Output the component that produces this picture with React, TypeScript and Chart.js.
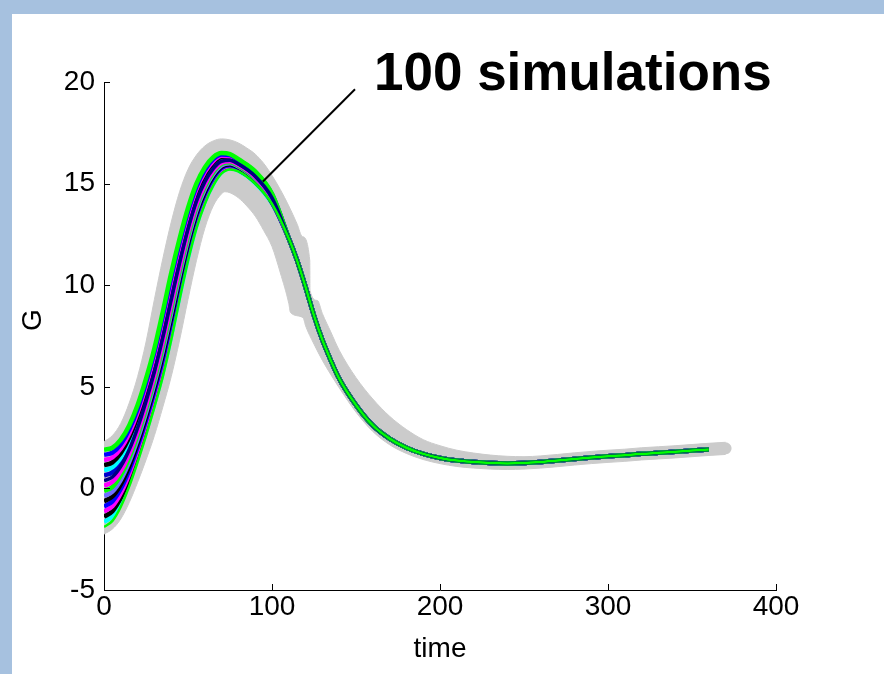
import React, { useEffect, useRef } from 'react';
import { Chart, registerables } from 'chart.js';

Chart.register(...registerables);

// ---------- axis ticks ----------
const xTicks = [0, 100, 200, 300, 400];
const yTicks = [-5, 0, 5, 10, 15, 20];
const xTitle = 'time';
const yTitle = 'G';

// ---------- simulation bundle (16 drawn simulations) ----------
// times of the early (diverging) part of the runs
const headTimes = [0, 5, 10, 15, 20, 25, 30, 35, 40, 45, 50, 55, 60, 65, 70, 75, 80, 90, 100];
// one row per head time: G of each simulation, top run first
const simHeadRows: number[][] = [
  [1.9, 1.65, 1.39, 1.14, 0.89, 0.63, 0.38, 0.13, -0.13, -0.38, -0.63, -0.89, -1.14, -1.39, -1.65, -1.9],
  [2.0, 1.76, 1.52, 1.28, 1.04, 0.8, 0.56, 0.32, 0.08, -0.16, -0.4, -0.64, -0.88, -1.12, -1.36, -1.6],
  [2.4, 2.18, 1.96, 1.74, 1.52, 1.3, 1.08, 0.86, 0.64, 0.42, 0.2, -0.02, -0.24, -0.46, -0.68, -0.9],
  [3.1, 2.9, 2.7, 2.5, 2.3, 2.1, 1.9, 1.7, 1.5, 1.3, 1.1, 0.9, 0.7, 0.5, 0.3, 0.1],
  [4.1, 3.91, 3.73, 3.54, 3.35, 3.17, 2.98, 2.79, 2.61, 2.42, 2.23, 2.05, 1.86, 1.67, 1.49, 1.3],
  [5.4, 5.21, 5.03, 4.84, 4.65, 4.47, 4.28, 4.09, 3.91, 3.72, 3.53, 3.35, 3.16, 2.97, 2.79, 2.6],
  [6.9, 6.71, 6.51, 6.32, 6.13, 5.93, 5.74, 5.55, 5.35, 5.16, 4.97, 4.77, 4.58, 4.39, 4.19, 4.0],
  [8.7, 8.49, 8.27, 8.06, 7.85, 7.63, 7.42, 7.21, 6.99, 6.78, 6.57, 6.35, 6.14, 5.93, 5.71, 5.5],
  [10.6, 10.38, 10.16, 9.94, 9.72, 9.5, 9.28, 9.06, 8.84, 8.62, 8.4, 8.18, 7.96, 7.74, 7.52, 7.3],
  [12.3, 12.1, 11.9, 11.7, 11.5, 11.3, 11.1, 10.9, 10.7, 10.5, 10.3, 10.1, 9.9, 9.7, 9.5, 9.3],
  [13.8, 13.63, 13.45, 13.28, 13.11, 12.93, 12.76, 12.59, 12.41, 12.24, 12.07, 11.89, 11.72, 11.55, 11.37, 11.2],
  [15.0, 14.85, 14.71, 14.56, 14.41, 14.27, 14.12, 13.97, 13.83, 13.68, 13.53, 13.39, 13.24, 13.09, 12.95, 12.8],
  [15.8, 15.68, 15.56, 15.44, 15.32, 15.2, 15.08, 14.96, 14.84, 14.72, 14.6, 14.48, 14.36, 14.24, 14.12, 14.0],
  [16.3, 16.21, 16.11, 16.02, 15.93, 15.83, 15.74, 15.65, 15.55, 15.46, 15.37, 15.27, 15.18, 15.09, 14.99, 14.9],
  [16.5, 16.43, 16.37, 16.3, 16.23, 16.17, 16.1, 16.03, 15.97, 15.9, 15.83, 15.77, 15.7, 15.63, 15.57, 15.5],
  [16.45, 16.4, 16.35, 16.3, 16.25, 16.2, 16.15, 16.1, 16.05, 16.0, 15.95, 15.9, 15.85, 15.8, 15.75, 15.7],
  [16.2, 16.16, 16.12, 16.08, 16.04, 16.0, 15.96, 15.92, 15.88, 15.84, 15.8, 15.76, 15.72, 15.68, 15.64, 15.6],
  [15.6, 15.56, 15.52, 15.48, 15.44, 15.4, 15.36, 15.32, 15.28, 15.24, 15.2, 15.16, 15.12, 15.08, 15.04, 15.0],
  [14.5, 14.47, 14.43, 14.4, 14.37, 14.33, 14.3, 14.27, 14.23, 14.2, 14.17, 14.13, 14.1, 14.07, 14.03, 14.0],
];
// converged part, shared by all runs
const tailTimes = [110, 115, 120, 125, 130, 135, 140, 150, 160, 170, 180, 190, 200, 210, 220, 230, 240, 250, 260, 270, 280, 290, 300, 310, 320, 330, 340, 350, 360];
const tailValues = [12.3, 11.2, 9.9, 8.5, 7.3, 6.3, 5.4, 4.1, 3.1, 2.45, 2.0, 1.7, 1.5, 1.37, 1.3, 1.25, 1.23, 1.25, 1.3, 1.37, 1.45, 1.52, 1.58, 1.63, 1.7, 1.75, 1.8, 1.86, 1.92];

const simColors = [
  '#00ff00', '#0000ff', '#ff00ff', '#000000', '#00ffff', '#0000cc', '#000080', '#ff00ff',
  '#00ff00', '#7070ff', '#000000', '#0000ff', '#ff00ff', '#000000', '#00ffff', '#00ff00',
];

// ---------- grey envelope ----------
const grayUpperT = [0, 5, 10, 15, 20, 25, 30, 35, 40, 45, 50, 55, 60, 65, 70, 75, 80, 85, 90, 95, 100, 105, 110, 115, 118, 122.5, 122.6, 127, 130, 135, 140, 150, 160, 170, 180, 190, 200, 210, 220, 230, 240, 250, 260, 270, 280, 290, 300, 310, 320, 330, 340, 350, 360, 370];
const grayUpperG = [2.3, 2.6, 3.2, 4.2, 5.5, 7.2, 9.3, 11.3, 13.1, 14.6, 15.7, 16.4, 16.85, 17.1, 17.2, 17.15, 17.0, 16.75, 16.45, 16.0, 15.4, 14.7, 13.9, 13.0, 12.4, 11.2, 9.75, 9.25, 8.6, 7.7, 6.8, 5.45, 4.4, 3.55, 2.9, 2.4, 2.1, 1.88, 1.74, 1.64, 1.58, 1.56, 1.6, 1.67, 1.75, 1.82, 1.88, 1.93, 2.0, 2.05, 2.1, 2.16, 2.22, 2.27];
const grayLowerT = [0, 5, 10, 15, 20, 25, 30, 35, 40, 45, 50, 55, 60, 65, 70, 72, 75, 80, 85, 90, 95, 100, 105, 110, 111, 118.5, 120, 125, 130, 135, 140, 150, 160, 170, 180, 190, 200, 210, 220, 230, 240, 250, 260, 270, 280, 290, 300, 310, 320, 330, 340, 350, 360, 370];
const grayLowerG = [-2.25, -2.0, -1.5, -0.7, 0.3, 1.4, 2.6, 4.0, 5.5, 7.3, 9.3, 11.2, 12.8, 13.9, 14.5, 14.6, 14.55, 14.3, 13.9, 13.4, 12.7, 11.9, 10.6, 9.1, 8.66, 8.4, 8.0, 7.1, 6.3, 5.6, 4.95, 3.75, 2.8, 2.15, 1.72, 1.42, 1.22, 1.08, 1.0, 0.95, 0.93, 0.95, 1.0, 1.07, 1.15, 1.22, 1.28, 1.33, 1.4, 1.45, 1.5, 1.56, 1.62, 1.67];
const grayCapT = [340, 350, 360, 370];
const grayCapG = [1.8, 1.86, 1.92, 1.97];

// ---------- callout ----------
const calloutText = '100 simulations';
const calloutFrom = [94.6, 15.1];
const calloutTo = [149.4, 19.64];
const calloutLabelAt = [160.7, 19.59];

const GRAY = '#cbcbcb';
const FONT = '"Liberation Sans", Arial, Helvetica, sans-serif';

const toPoints = (xs: number[], ys: number[]) => xs.map((x, i) => ({ x, y: ys[i] }));

const decorPlugin = {
  id: 'decor',
  afterDraw(chart: any) {
    const { ctx, chartArea } = chart;
    const xs = chart.scales.x;
    const ys = chart.scales.y;
    ctx.save();
    // inward tick marks
    ctx.strokeStyle = '#000';
    ctx.lineWidth = 1;
    ctx.beginPath();
    xTicks.forEach((v) => {
      const px = Math.round(xs.getPixelForValue(v)) + 0.5;
      ctx.moveTo(px, chartArea.bottom);
      ctx.lineTo(px, chartArea.bottom - 6);
    });
    yTicks.forEach((v) => {
      const py = Math.round(ys.getPixelForValue(v)) + 0.5;
      ctx.moveTo(chartArea.left, py);
      ctx.lineTo(chartArea.left + 6, py);
    });
    ctx.stroke();
    // y title
    ctx.font = `28px ${FONT}`;
    ctx.fillStyle = '#000';
    ctx.textAlign = 'center';
    ctx.textBaseline = 'middle';
    ctx.translate(chartArea.left - 71, (chartArea.top + chartArea.bottom) / 2 - 16);
    ctx.rotate(-Math.PI / 2);
    ctx.fillText(yTitle, 0, 0);
    ctx.restore();
  },
  afterDatasetsDraw(chart: any) {
    const { ctx } = chart;
    const xs = chart.scales.x;
    const ys = chart.scales.y;
    ctx.save();
    ctx.strokeStyle = '#000';
    ctx.lineWidth = 2;
    ctx.beginPath();
    ctx.moveTo(xs.getPixelForValue(calloutFrom[0]), ys.getPixelForValue(calloutFrom[1]));
    ctx.lineTo(xs.getPixelForValue(calloutTo[0]), ys.getPixelForValue(calloutTo[1]));
    ctx.stroke();
    ctx.font = `bold 53px ${FONT}`;
    ctx.fillStyle = '#000';
    ctx.textAlign = 'left';
    ctx.textBaseline = 'alphabetic';
    ctx.fillText(calloutText, xs.getPixelForValue(calloutLabelAt[0]), ys.getPixelForValue(calloutLabelAt[1]));
    ctx.restore();
  },
};

export default function App() {
  const ref = useRef<HTMLCanvasElement | null>(null);

  useEffect(() => {
    if (!ref.current) return;
    Chart.defaults.font.family = FONT;
    Chart.defaults.color = '#000';

    const lastK = simColors.length - 1;
    const edgeK = 6;
    const simDatasets = simColors.map((color, k) => {
      const head = headTimes.map((t, i) => ({ x: t, y: simHeadRows[i][k] }));
      const tail = toPoints(tailTimes, tailValues);
      const isTop = k === lastK;
      return {
        label: `sim ${k + 1}`,
        data: head.concat(tail),
        borderColor: color,
        borderWidth: isTop ? 2.5 : k === edgeK ? 3.5 : 4.5,
        pointRadius: 0,
        fill: false,
        cubicInterpolationMode: 'monotone' as const,
        order: isTop ? 0 : k === edgeK ? 0.5 : 1,
      };
    });

    const datasets: any[] = [
      ...simDatasets,
      {
        label: 'band upper',
        data: toPoints(grayUpperT, grayUpperG),
        borderColor: GRAY,
        borderWidth: 1,
        backgroundColor: GRAY,
        pointRadius: 0,
        fill: false,
        cubicInterpolationMode: 'monotone',
        order: 10,
      },
      {
        label: 'band lower',
        data: toPoints(grayLowerT, grayLowerG),
        borderColor: GRAY,
        borderWidth: 1,
        backgroundColor: GRAY,
        pointRadius: 0,
        fill: '-1',
        cubicInterpolationMode: 'monotone',
        order: 10,
      },
      {
        label: 'band end',
        data: toPoints(grayCapT, grayCapG),
        borderColor: GRAY,
        borderWidth: 12,
        borderCapStyle: 'round',
        pointRadius: 0,
        fill: false,
        order: 9,
      },
    ];

    const chart = new Chart(ref.current, {
      type: 'line',
      data: { datasets },
      options: {
        animation: false,
        responsive: false,
        devicePixelRatio: 1,
        events: [],
        parsing: false,
        layout: { padding: { left: 0, top: 68, right: 108, bottom: 0 } },
        plugins: {
          legend: { display: false },
          tooltip: { enabled: false },
        },
        scales: {
          x: {
            type: 'linear',
            min: 0,
            max: 400,
            afterBuildTicks: (s: any) => {
              s.ticks = xTicks.map((v) => ({ value: v }));
            },
            afterFit: (s: any) => {
              s.height = 84;
            },
            ticks: { font: { size: 28 }, color: '#000', padding: 0, maxRotation: 0, autoSkip: false },
            grid: { drawOnChartArea: false, drawTicks: false, display: true, color: '#000', lineWidth: 1 },
            border: { color: '#000', width: 1 },
            title: { display: true, text: xTitle, font: { size: 28 }, color: '#000', padding: { top: 0, bottom: 8 } },
          },
          y: {
            type: 'linear',
            min: -5,
            max: 20,
            afterBuildTicks: (s: any) => {
              s.ticks = yTicks.map((v) => ({ value: v }));
            },
            afterFit: (s: any) => {
              s.width = 92;
            },
            ticks: { font: { size: 28 }, color: '#000', padding: 9, autoSkip: false },
            grid: { drawOnChartArea: false, drawTicks: false, display: true, color: '#000', lineWidth: 1 },
            border: { color: '#000', width: 1 },
            title: { display: false },
          },
        },
      },
      plugins: [decorPlugin],
    } as any);

    return () => chart.destroy();
  }, []);

  return (
    <div style={{ position: 'absolute', left: 0, top: 0, width: 884, height: 674, background: '#a6c1df', overflow: 'hidden' }}>
      <div style={{ position: 'absolute', left: 12, top: 14, width: 872, height: 660, background: '#ffffff' }}>
        <canvas ref={ref} width={872} height={660} style={{ display: 'block', width: 872, height: 660 }} />
      </div>
    </div>
  );
}
